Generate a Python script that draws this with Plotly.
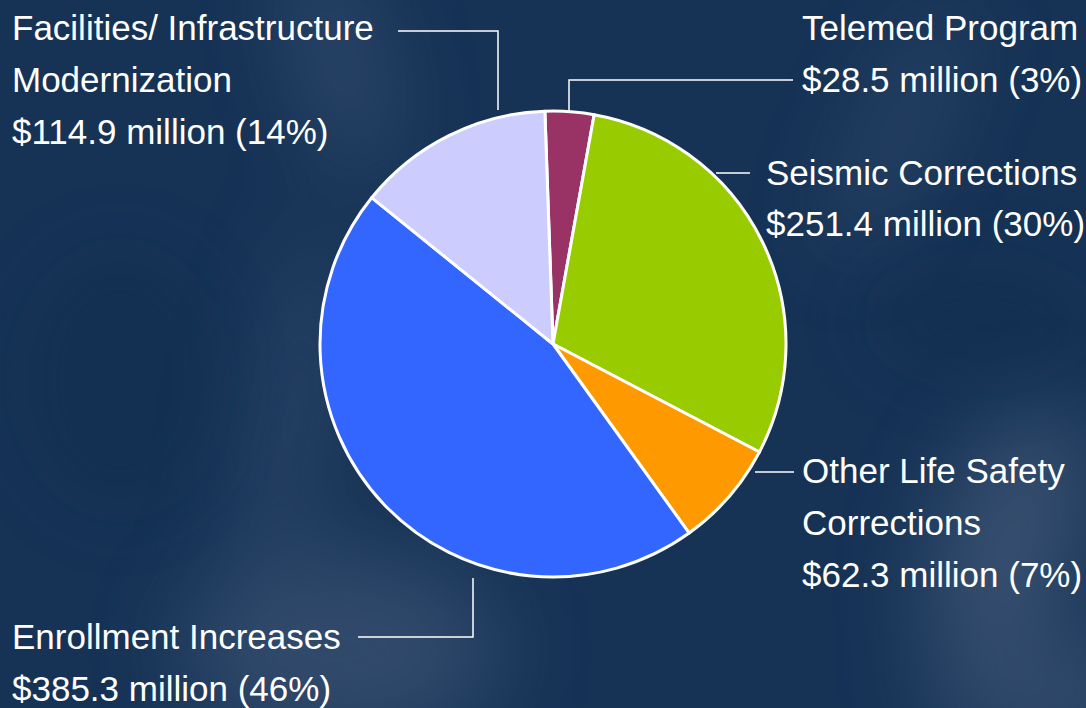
import base64
import plotly.graph_objects as go

# ---- data ----
categories = ["Telemed Program", "Seismic Corrections", "Other Life Safety Corrections",
              "Enrollment Increases", "Facilities/ Infrastructure Modernization"]
values = [28.5, 251.4, 62.3, 385.3, 114.9]
colors = ["#993366", "#99cc00", "#ff9900", "#3366ff", "#ccccff"]

label_lines = {
    "Facilities": ["Facilities/ Infrastructure", "Modernization", "$114.9 million (14%)"],
    "Telemed": ["Telemed Program", "$28.5 million (3%)"],
    "Seismic": ["Seismic Corrections", "$251.4 million (30%)"],
    "Other": ["Other Life Safety", "Corrections", "$62.3 million (7%)"],
    "Enrollment": ["Enrollment Increases", "$385.3 million (46%)"],
}

W, H = 1086, 708

def px(x):
    return x / W

def py(y):
    return 1 - y / H

# background texture as SVG
svg = f'''<svg xmlns="http://www.w3.org/2000/svg" width="{W}" height="{H}" viewBox="0 0 {W} {H}">
<defs>
<filter id="b" x="-50%" y="-50%" width="200%" height="200%"><feGaussianBlur stdDeviation="45"/></filter>
<filter id="b2" x="-50%" y="-50%" width="200%" height="200%"><feGaussianBlur stdDeviation="30"/></filter>
</defs>
<rect width="{W}" height="{H}" fill="#163356"/>
<g filter="url(#b)" opacity="0.5">
<ellipse cx="340" cy="650" rx="160" ry="95" fill="#4d6282"/>
<ellipse cx="340" cy="60" rx="35" ry="120" fill="#4d6282" transform="rotate(-15 340 60)"/>
<ellipse cx="290" cy="420" rx="35" ry="200" fill="#3e5577" transform="rotate(10 290 420)"/>
<ellipse cx="1010" cy="540" rx="70" ry="140" fill="#5a6d8a" transform="rotate(20 1010 540)"/>
<ellipse cx="900" cy="130" rx="22" ry="140" fill="#4d6282" transform="rotate(25 900 130)"/>
<ellipse cx="1050" cy="700" rx="120" ry="60" fill="#4d6282"/>
</g>
<g filter="url(#b2)" opacity="0.3">
<ellipse cx="120" cy="380" rx="110" ry="140" fill="#0c2a4a"/>
<ellipse cx="980" cy="320" rx="120" ry="70" fill="#0c2a4a"/>
</g>
</svg>'''
bg_src = "data:image/svg+xml;base64," + base64.b64encode(svg.encode()).decode()

fig = go.Figure()
cx, cy, r = 553, 344, 233
fig.add_trace(go.Pie(
    labels=categories, values=values, sort=False, direction="clockwise", rotation=-2,
    marker=dict(colors=colors, line=dict(color="white", width=3)),
    textinfo="none", hoverinfo="label+value+percent", showlegend=False,
    domain=dict(x=[px(cx - r), px(cx + r)], y=[py(cy + r), py(cy - r)]),
))

font = dict(family="Liberation Sans, Arial", size=35, color="white")
annots = []

def add_block(lines, x, y0, step=52):
    for i, t in enumerate(lines):
        annots.append(dict(text=t, x=px(x), y=py(y0 + i * step), xref="paper", yref="paper",
                           xanchor="left", yanchor="middle", showarrow=False, font=font))

add_block(label_lines["Facilities"], 10, 28)
add_block(label_lines["Telemed"], 800, 28)
add_block(label_lines["Seismic"], 764, 172)
add_block(label_lines["Other"], 800, 470)
add_block(label_lines["Enrollment"], 10, 636)

leaders = [
    [(398, 31), (498, 31), (498, 110)],
    [(569, 111), (569, 80), (793, 80)],
    [(716, 173), (750, 173)],
    [(755, 472), (794, 472)],
    [(473, 578), (473, 637), (358, 637)],
]
shapes = []
for pts in leaders:
    path = "M " + " L ".join(f"{px(x)},{py(y)}" for x, y in pts)
    shapes.append(dict(type="path", path=path, xref="paper", yref="paper",
                       line=dict(color="white", width=1.5)))

fig.update_layout(
    width=W, height=H, margin=dict(l=0, r=0, t=0, b=0),
    paper_bgcolor="#163356", plot_bgcolor="#163356",
    annotations=annots, shapes=shapes,
    images=[dict(source=bg_src, xref="paper", yref="paper", x=0, y=1, sizex=1, sizey=1,
                 sizing="stretch", layer="below", xanchor="left", yanchor="top")],
)
fig.write_html("out.html", config={"displayModeBar": False},
               post_script="document.body.style.margin='0';document.body.style.padding='0';"
                           "document.body.style.overflow='hidden';")
